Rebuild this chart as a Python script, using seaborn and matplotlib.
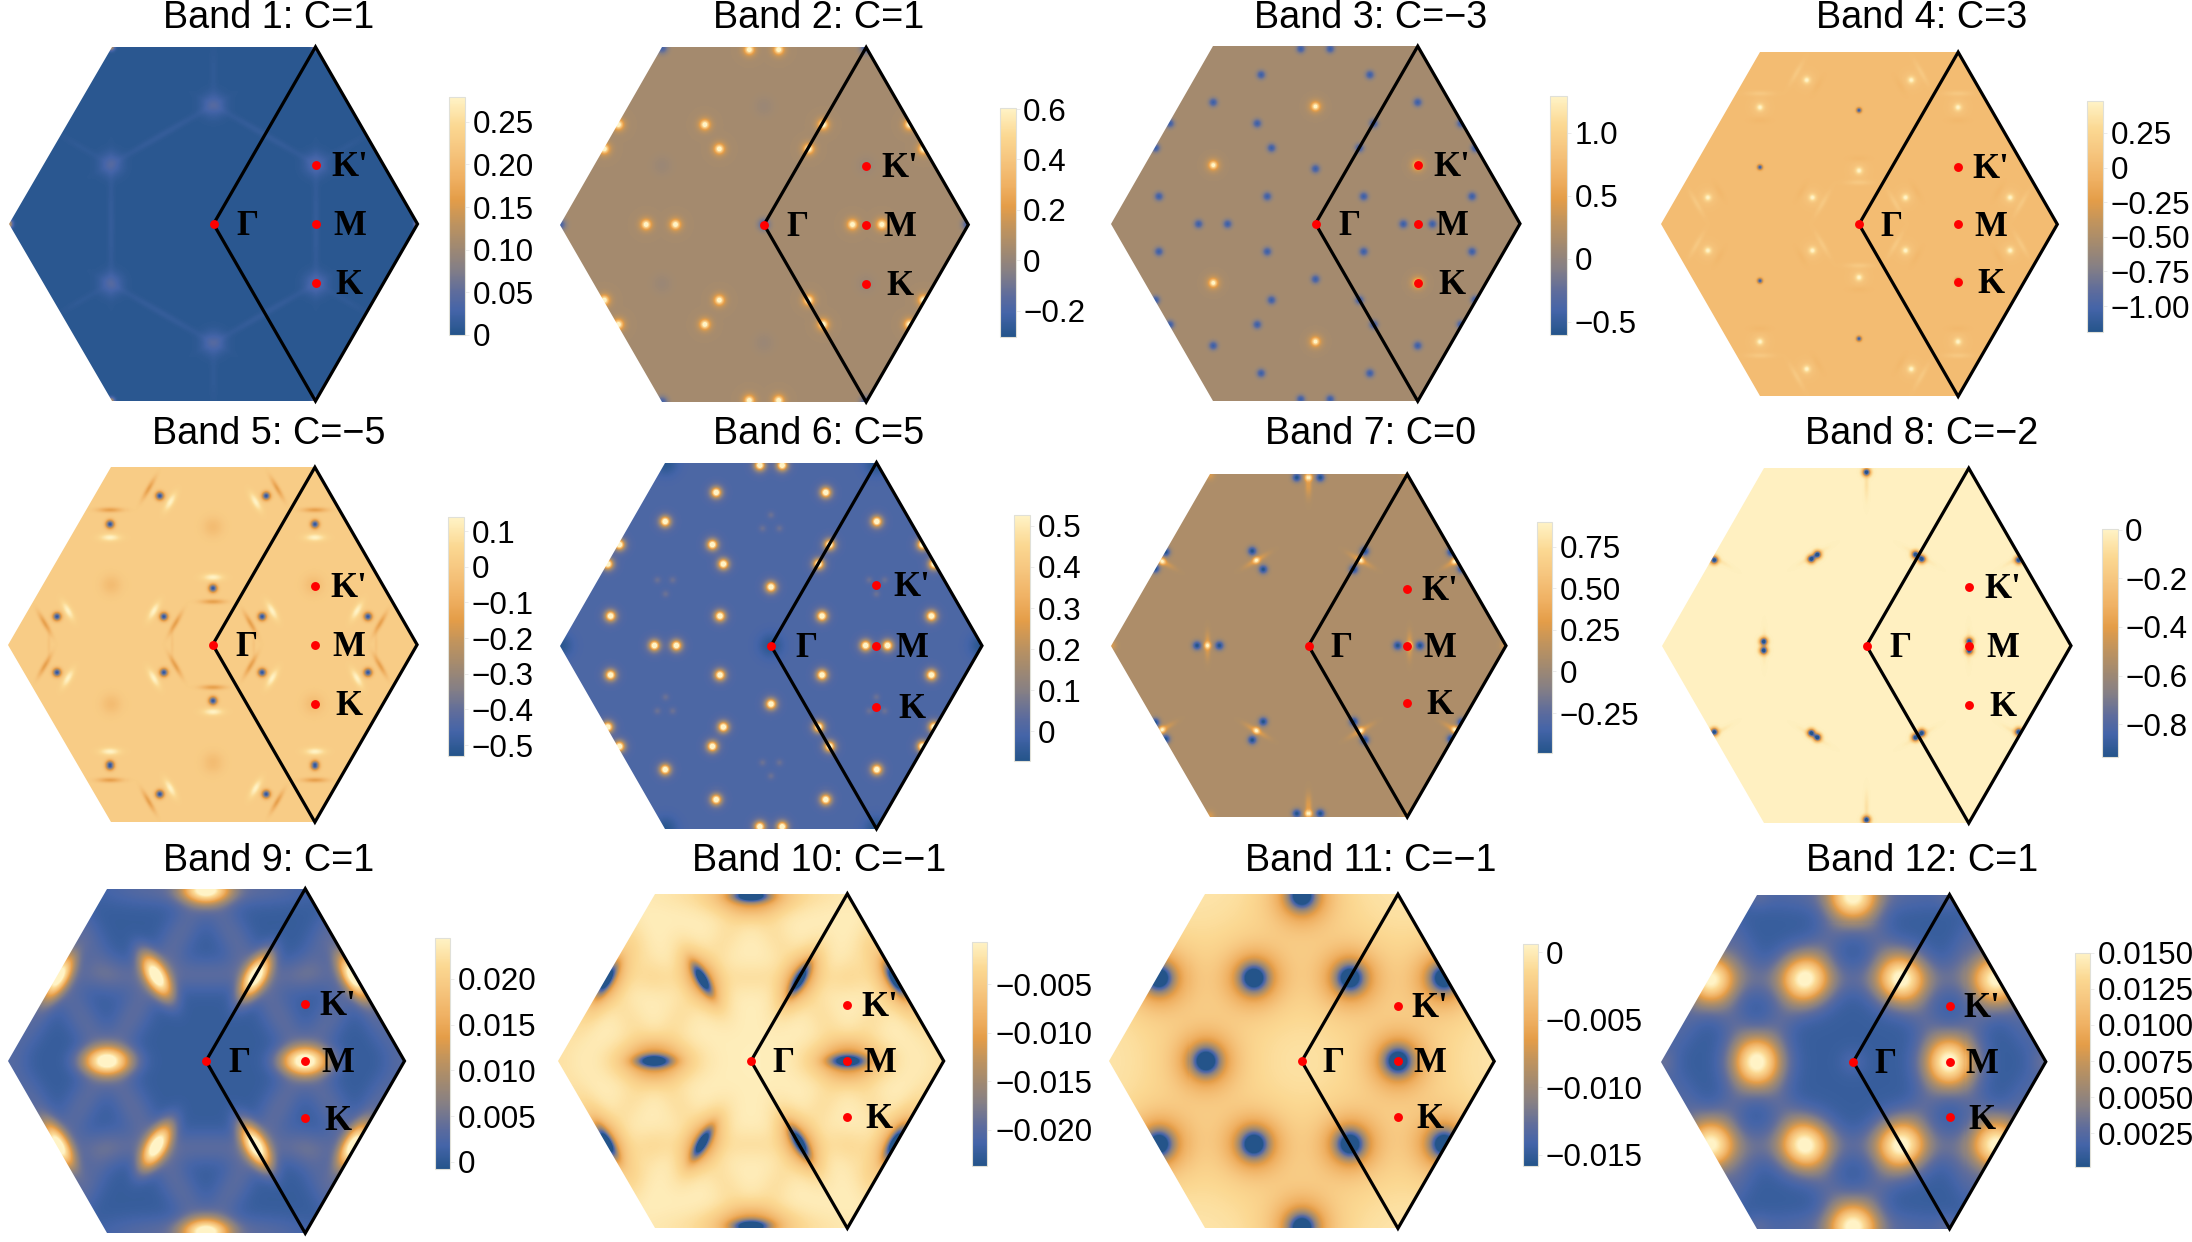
import numpy as np
import matplotlib
matplotlib.use("Agg")
import matplotlib.pyplot as plt
from matplotlib.colors import LinearSegmentedColormap
from matplotlib.patches import Polygon
import seaborn as sns

W, H = 2192, 1242
sns.set_style("white")
plt.rcParams['font.family'] = ['Liberation Sans', 'DejaVu Sans']

CMAP = LinearSegmentedColormap.from_list("band", [
    (0.00, "#24548a"), (0.10, "#4464a8"), (0.18, "#5e6c9c"), (0.28, "#857f85"),
    (0.38, "#a38a6f"), (0.48, "#c2945c"), (0.57, "#e49d48"), (0.66, "#efb062"),
    (0.78, "#f6c67f"), (0.88, "#fbd892"), (1.00, "#fff3c6")])

TITLES = ["Band 1: C=1", "Band 2: C=1", "Band 3: C=\u22123", "Band 4: C=3",
          "Band 5: C=\u22125", "Band 6: C=5", "Band 7: C=0", "Band 8: C=\u22122",
          "Band 9: C=1", "Band 10: C=\u22121", "Band 11: C=\u22121", "Band 12: C=1"]
TITLE_X = [269, 819, 1371, 1922]
TITLE_BASE = [28, 443.5, 870.7]

# hexagon centre x, y and circumradius, in reference pixels
HEX = [(213.5, 224, 204), (764, 224.7, 204.3), (1315.5, 223.7, 204.5), (1859, 224.3, 198.3),
       (212.7, 644.7, 204.4), (771, 645.7, 211), (1308.5, 645.7, 197.5), (1866.5, 645.7, 204.5),
       (206, 1061, 198.5), (751, 1061, 192.7), (1301.7, 1061.3, 192.5), (1853.3, 1061.7, 192.5)]
# colour bar x0, x1, y0, y1, in reference pixels
CBAR = [(449, 465, 97, 335), (1000, 1015.5, 108, 336.7), (1550, 1566.7, 96, 335), (2087.3, 2102.7, 101, 332.3),
        (448.3, 464.3, 517.3, 755.7), (1014.3, 1030, 515, 760.7), (1537, 1552, 522.3, 753.3), (2102, 2117.5, 529, 757.3),
        (435, 450, 937.7, 1169.3), (972, 987.5, 941.7, 1165.7), (1523.3, 1538, 944.3, 1165.7), (2075.3, 2090, 952.7, 1166.7)]

VMIN = [0, -.304, -.607, -1.189, -.53, -.071, -.492, -.936, -.0008, -.0237, -.0158, .0002]
VMAX = [.279, .604, 1.292, .48, .139, .526, .896, .003, .0245, -.0006, .0006, .015]
BASE = [.0055, .047, .126, .02, .015, .005, .08, -.011, .0006, -.0012, -.0003, .0011]

TICKS = [[0, .05, .10, .15, .20, .25], [-.2, 0, .2, .4, .6], [-.5, 0, .5, 1.0],
         [-1.0, -.75, -.5, -.25, 0, .25], [-.5, -.4, -.3, -.2, -.1, 0, .1],
         [0, .1, .2, .3, .4, .5], [-.25, 0, .25, .5, .75], [-.8, -.6, -.4, -.2, 0],
         [0, .005, .01, .015, .02], [-.02, -.015, -.01, -.005], [-.015, -.01, -.005, 0],
         [.0025, .005, .0075, .01, .0125, .015]]
M = "\u2212"
LABELS = [["0", "0.05", "0.10", "0.15", "0.20", "0.25"],
          [M + "0.2", "0", "0.2", "0.4", "0.6"],
          [M + "0.5", "0", "0.5", "1.0"],
          [M + "1.00", M + "0.75", M + "0.50", M + "0.25", "0", "0.25"],
          [M + "0.5", M + "0.4", M + "0.3", M + "0.2", M + "0.1", "0", "0.1"],
          ["0", "0.1", "0.2", "0.3", "0.4", "0.5"],
          [M + "0.25", "0", "0.25", "0.50", "0.75"],
          [M + "0.8", M + "0.6", M + "0.4", M + "0.2", "0"],
          ["0", "0.005", "0.010", "0.015", "0.020"],
          [M + "0.020", M + "0.015", M + "0.010", M + "0.005"],
          [M + "0.015", M + "0.010", M + "0.005", "0"],
          ["0.0025", "0.0050", "0.0075", "0.0100", "0.0125", "0.0150"]]

# Feature positions (u, v[, angle]) in units of the hexagon radius,
# one quadrant each; the panels are mirror-symmetric about both axes.
VERTS = [(-1, 0), (-.5, -.866)]
RING = [(0, -.58), (-.5, -.29)]
SITES_ROUND = [(-.5, 0), (-.25, -.432), (-.74, -.432), (0, -.86)]
SITES_FLAT = [(-.5, 0, 0), (0, -.86, 0)]
SITES_SLANT = [(-.25, -.425, 60), (-.745, -.425, -60)]
LINKS = [(-.375, -.2165, -60), (-.625, -.2165, 60), (-.5, -.433, 0), (0, -.433, 0),
         (-.125, -.65, -60), (-.875, -.2165, -60), (-.625, -.65, 60), (-.25, -.866, 0)]

B1_LINES = [(-.5, 0, 90), (-.25, -.435, -30)]
B1_RADIAL = [(0, -.74, 90), (-.64, -.37, 30)]
B2_SPOTS = [(-.578, 0), (-.434, 0), (-.29, -.49), (-.219, -.371), (-.714, -.49), (-.783, -.371), (-.072, -.858)]
B2_BLUE = [(0, 0), (-1, 0), (-.5, -.866)]
B3_BLUE = [(-.072, -.857), (-.266, -.73), (-.5, -.595), (-.285, -.492), (-.712, -.492), (-.782, -.372),
           (-.215, -.372), (0, -.27), (-.766, -.135), (-.236, -.135), (-.572, 0), (-.43, 0)]
B3_BRIGHT = [(0, -.575), (-.5, -.288)]
B4_BRIGHT = [(-.264, -.728), (-.5, -.59), (0, -.27), (-.763, -.134), (-.235, -.134)]
B4_BLUE = [(0, -.575), (-.5, -.287)]
B5_DARK = [(-.261, -.729), (-.5, -.59), (0, -.276), (-.76, -.137), (-.241, -.137)]
B5_ARCS = [(-.5, -.525, 0), (0, -.33, 0), (-.209, -.70, -60), (-.29, -.165, -60), (-.706, -.165, 60)]
B5_STREAKS = [(-.5, -.66, 0), (0, -.21, 0), (-.315, -.765, -60), (-.184, -.104, -60), (-.82, -.104, 60)]
B5_FAINT = [(-.2, 0, 90), (-.8, 0, 90)]
B5_TRI = [(0, -.577), (-.494, -.292)]
B6_SPOTS = [(-.053, -.856), (-.26, -.727), (-.502, -.589), (-.278, -.479), (-.719, -.479), (-.226, -.387),
            (-.774, -.387), (0, -.278), (-.761, -.14), (-.242, -.14), (-.553, 0), (-.449, 0)]
B6_DARK = [(0, 0), (-1, 0), (-.5, -.866)]
B6_TRI = [(0, -.62), (-.04, -.556), (-.539, -.311), (-.466, -.311), (-.5, -.245)]
B7_BRIGHT = [(-.51, 0), (-.262, -.432), (-.74, -.427), (0, -.852)]
B7_BLUE = [(-.563, 0), (-.45, 0), (-.283, -.479), (-.227, -.386), (-.722, -.474), (-.775, -.39),
           (-.057, -.852)]
B7_STREAK = [(-.51, 0, 90), (-.262, -.432, -30), (-.74, -.427, 30), (0, -.82, 90)]
B8_BLUE = [(-.503, -.022), (-.27, -.425), (-.24, -.447), (-.745, -.42), (0, -.85)]
B8_STREAK = [(-.5, 0, 90), (0, -.79, 90), (-.26, -.44, -30), (-.74, -.43, 30)]

# (positions, amplitude, long sigma, short sigma)
BANDS = [
    [(RING, .03, .04, .04), (B1_LINES, .009, .2, .012), (B1_RADIAL, .005, .09, .012), (VERTS, .12, .012, .012)],
    [(B2_SPOTS, .5, .012, .012), (B2_SPOTS, .2, .024, .024), (B2_BLUE, -.25, .02, .02), (RING, -.03, .035, .035)],
    [(B3_BLUE, -.58, .015, .015), (B3_BRIGHT, 1.0, .011, .011), (B3_BRIGHT, .35, .024, .024)],
    [(B4_BRIGHT, .4, .012, .012), (B4_BRIGHT, .08, .03, .03), (B5_STREAKS, .1, .045, .009),
     (B5_ARCS, -.04, .035, .012), (B4_BLUE, -1.1, .009, .009)],
    [(B5_DARK, -.52, .014, .014), (B5_ARCS, .12, .032, .012), (B5_STREAKS, -.15, .042, .009),
     (B5_FAINT, -.03, .05, .006), (B5_TRI, -.06, .035, .035)],
    [(B6_SPOTS, .5, .012, .012), (B6_SPOTS, .2, .024, .024), (B6_DARK, -.065, .04, .04), (B6_TRI, .05, .012, .012)],
    [(B7_BLUE, -.58, .016, .016), (B7_STREAK, .2, .045, .01), (B7_BRIGHT, .7, .011, .011), (VERTS, .18, .018, .018)],
    [(B8_BLUE, -1.0, .013, .013), (B8_STREAK, -.06, .05, .008)],
    [(SITES_FLAT, .023, .082, .045), (SITES_SLANT, .024, .085, .036), (LINKS, .0025, .2, .06)],
    [(SITES_FLAT, -.02, .06, .022), (SITES_FLAT, -.009, .13, .07),
     (SITES_SLANT, -.02, .06, .02), (SITES_SLANT, -.008, .12, .055), (LINKS, -.0012, .2, .06)],
    [(SITES_ROUND, -.0125, .045, .045), (SITES_ROUND, -.0065, .1, .1), (SITES_ROUND, -.0018, .2, .2)],
    [(SITES_ROUND, .0128, .088, .088), (LINKS, .0011, .2, .06), ([(0, 0)], .0008, .05, .05), (VERTS, .001, .05, .05)],
]


def expand(pos):
    out = {}
    for p in pos:
        u, v = p[0], p[1]
        th = p[2] if len(p) > 2 else 0
        for su in (1, -1):
            for sv in (1, -1):
                a = (su * th * sv) % 180
                out[(round(su * u, 4), round(sv * v, 4), a)] = True
    return list(out)


def build_field(base, layers, U, V):
    Z = np.full(U.shape, float(base))
    for pos, amp, sl, ss in layers:
        for u, v, th in expand(pos):
            t = np.deg2rad(th)
            dx, dy = U - u, V - v
            p = dx * np.cos(t) + dy * np.sin(t)
            q = -dx * np.sin(t) + dy * np.cos(t)
            Z += amp * np.exp(-.5 * (p ** 2 / sl ** 2 + q ** 2 / ss ** 2))
    return Z


def rect_axes(fig, x0, x1, y0, y1):
    return fig.add_axes([x0 / W, 1 - y1 / H, (x1 - x0) / W, (y1 - y0) / H])


fig = plt.figure(figsize=(W / 100, H / 100), dpi=100, facecolor="white")
UM, VM = 1.02, .9

for i in range(12):
    cx, cy, R = HEX[i]
    ax = rect_axes(fig, cx - UM * R, cx + UM * R, cy - VM * R, cy + VM * R)
    x0, x1, y0, y1 = CBAR[i]
    cax = rect_axes(fig, x0, x1, y0, y1)
    nx, ny = int(2 * UM * R), int(2 * VM * R)
    uu = (np.arange(nx) + .5) / nx * 2 * UM - UM
    vv = (np.arange(ny) + .5) / ny * 2 * VM - VM
    U, V = np.meshgrid(uu, vv)
    Z = build_field(BASE[i], BANDS[i], U, V)
    sns.heatmap(Z, ax=ax, cbar_ax=cax, cmap=CMAP, vmin=VMIN[i], vmax=VMAX[i],
                xticklabels=False, yticklabels=False)

    def to_cell(u, v):
        return (u + UM) / (2 * UM) * nx, (v + VM) / (2 * VM) * ny

    hh = .868
    hexagon = [to_cell(*p) for p in [(-1, 0), (-.5, -hh), (.5, -hh), (1, 0), (.5, hh), (-.5, hh)]]
    mesh = ax.collections[0]
    mesh.set_clip_path(Polygon(hexagon, closed=True, transform=ax.transData))
    ax.set_axis_off()

    rhomb = [to_cell(*p) for p in [(0, 0), (.5, -hh), (1, 0), (.5, hh), (0, 0)]]
    ax.plot([p[0] for p in rhomb], [p[1] for p in rhomb], color="black", lw=2.3,
            solid_joinstyle="miter", clip_on=False, zorder=3)
    pts = [(0, 0), (.5, -hh / 3), (.5, 0), (.5, hh / 3)]
    names = ["\u0393", "K'", "M", "K"]
    for (u, v), name in zip(pts, names):
        px, py = to_cell(u, v)
        ax.plot([px], [py], "o", color="#ff0000", ms=6.4, mew=0, zorder=4, clip_on=False)
        tx, ty = to_cell(u + .166, v + .014)
        ax.text(tx, ty, name, family="Liberation Serif", weight="bold", fontsize=25,
                ha="center", va="center", color="black", zorder=5, clip_on=False)

    cbar = mesh.colorbar
    cbar.set_ticks(TICKS[i], labels=LABELS[i])
    cbar.ax.tick_params(length=3, width=.6, color="#e8e8e8", labelsize=22.6, pad=2.5, labelcolor="black")
    cbar.outline.set_visible(True)
    cbar.outline.set_edgecolor("#e0e0d8")
    cbar.outline.set_linewidth(.8)

    row, col = i // 4, i % 4
    fig.text(TITLE_X[col] / W, 1 - TITLE_BASE[row] / H, TITLES[i], fontsize=27.2,
             ha="center", va="baseline", color="black")

fig.savefig("out.png", dpi=100, facecolor="white")
